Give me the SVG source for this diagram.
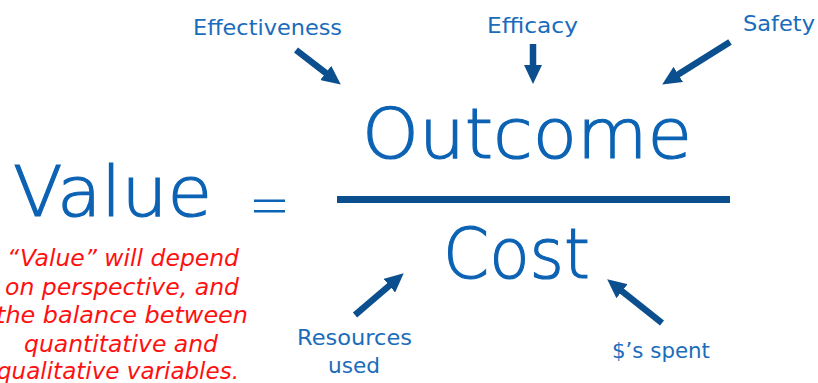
<svg xmlns="http://www.w3.org/2000/svg" width="818" height="383" viewBox="0 0 818 383">
  <defs>
    <marker id="head" markerUnits="userSpaceOnUse" markerWidth="19" markerHeight="18" refX="4" refY="9" orient="auto">
      <path d="M0,0 L19,9 L0,18 z" fill="#0c4f8e"/>
    </marker>
  </defs>
  <style>
    .big { font-family: "DejaVu Sans", "Liberation Sans", sans-serif; font-size: 70px; font-weight: 200; fill: #0c62b3; stroke: #0c62b3; stroke-width: 1.2; }
    .lbl { font-family: "DejaVu Sans", "Liberation Sans", sans-serif; font-size: 21px; fill: #1a6cbc; }
    .note { font-family: "DejaVu Sans", "Liberation Sans", sans-serif; font-size: 23px; font-style: italic; fill: #ff1010; text-anchor: middle; }
    .arrow { stroke: #0c4f8e; stroke-width: 6.5; fill: none; marker-end: url(#head); }
  </style>
  <rect width="818" height="383" fill="#ffffff"/>

  <!-- equation -->
  <g id="value">
    <text class="big" x="13" y="216" textLength="199" lengthAdjust="spacingAndGlyphs">Value</text>
  </g>
  <g id="equals">
    <rect x="254" y="199.5" width="31" height="2.5" fill="#0c62b3"/>
    <rect x="254" y="210" width="31" height="2.5" fill="#0c62b3"/>
  </g>
  <g id="outcome">
    <text class="big" x="362" y="158" textLength="330" lengthAdjust="spacingAndGlyphs">Outcome</text>
  </g>
  <g id="fraction-bar">
    <rect x="337" y="196" width="393" height="7" fill="#0c4f8e"/>
  </g>
  <g id="cost">
    <text class="big" x="443" y="278" textLength="147" lengthAdjust="spacingAndGlyphs">Cost</text>
  </g>

  <!-- factor labels -->
  <g id="effectiveness">
    <text class="lbl" x="193" y="35" textLength="149" lengthAdjust="spacingAndGlyphs">Effectiveness</text>
  </g>
  <g id="efficacy">
    <text class="lbl" x="487" y="33" textLength="91" lengthAdjust="spacingAndGlyphs">Efficacy</text>
  </g>
  <g id="safety">
    <text class="lbl" x="743" y="31" textLength="72" lengthAdjust="spacingAndGlyphs">Safety</text>
  </g>
  <g id="resources">
    <text class="lbl" x="297" y="345" textLength="115" lengthAdjust="spacingAndGlyphs">Resources</text>
    <text class="lbl" x="328" y="373" textLength="52" lengthAdjust="spacingAndGlyphs">used</text>
  </g>
  <g id="spent">
    <text class="lbl" x="612" y="358" textLength="98" lengthAdjust="spacingAndGlyphs">$’s spent</text>
  </g>

  <!-- note -->
  <g id="note">
    <text class="note" x="123" y="266" textLength="232" lengthAdjust="spacingAndGlyphs">“Value” will depend</text>
    <text class="note" x="122" y="295" textLength="234" lengthAdjust="spacingAndGlyphs">on perspective, and</text>
    <text class="note" x="122" y="323" textLength="252" lengthAdjust="spacingAndGlyphs">the balance between</text>
    <text class="note" x="121" y="352" textLength="194" lengthAdjust="spacingAndGlyphs">quantitative and</text>
    <text class="note" x="118" y="379" textLength="242" lengthAdjust="spacingAndGlyphs">qualitative variables.</text>
  </g>

  <!-- connectors -->
  <g id="connectors">
    <line class="arrow" x1="296" y1="50" x2="328.9" y2="75.4"/>
    <line class="arrow" x1="533" y1="44" x2="533" y2="69"/>
    <line class="arrow" x1="730" y1="42" x2="674.9" y2="76.6"/>
    <line class="arrow" x1="355" y1="315" x2="392.3" y2="283.1"/>
    <line class="arrow" x1="662" y1="323" x2="618.9" y2="288.7"/>
  </g>
</svg>
